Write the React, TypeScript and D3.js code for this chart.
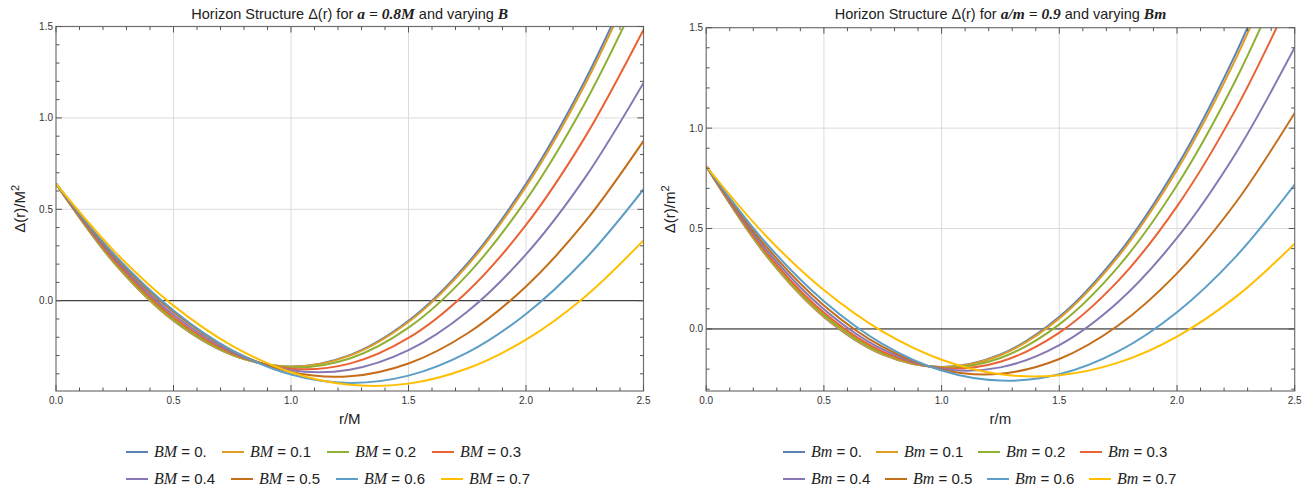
import React from "react";
import * as d3 from "d3";

// ---------- data ----------
const rGrid = [0, 0.25, 0.5, 0.75, 1.0, 1.25, 1.5, 1.75, 2.0, 2.25, 2.5];
const bLabels = ["0.", "0.1", "0.2", "0.3", "0.4", "0.5", "0.6", "0.7"];
const seriesColors = ["#5E81B5", "#E19C24", "#8FB032", "#EB6235", "#8778B3", "#C56E1A", "#5D9EC7", "#FFBF00"];

// Left panel: a = 0.8M
const leftB0 = [0.64, 0.2025, -0.11, -0.2975, -0.36, -0.2975, -0.11, 0.2025, 0.64, 1.2025, 1.89];
const leftB1 = [0.64, 0.2036, -0.1086, -0.2968, -0.3609, -0.3008, -0.1167, 0.1915, 0.6239, 1.1803, 1.8608];
const leftB2 = [0.64, 0.2088, -0.1024, -0.2936, -0.3648, -0.316, -0.1472, 0.1416, 0.5504, 1.0792, 1.728];
const leftB3 = [0.64, 0.2184, -0.0909, -0.2877, -0.3721, -0.3441, -0.2037, 0.0492, 0.4144, 0.8921, 1.4822];
const leftB4 = [0.64, 0.2297, -0.0772, -0.2807, -0.3807, -0.3773, -0.2704, -0.0601, 0.2536, 0.6708, 1.1914];
const leftB5 = [0.64, 0.242, -0.0623, -0.273, -0.3901, -0.4135, -0.3432, -0.1793, 0.0782, 0.4294, 0.8743];
const leftB6 = [0.64, 0.2502, -0.0537, -0.2717, -0.4038, -0.4498, -0.41, -0.2842, -0.0725, 0.2252, 0.6087];
const leftB7 = [0.64, 0.2687, -0.027, -0.2471, -0.3916, -0.4604, -0.4537, -0.3712, -0.2132, 0.0205, 0.3297];

// Right panel: a/m = 0.9
const rightB0 = [0.81, 0.3725, 0.06, -0.1275, -0.19, -0.1275, 0.06, 0.3725, 0.81, 1.3725, 2.06];
const rightB1 = [0.81, 0.3741, 0.062, -0.1261, -0.1905, -0.1309, 0.0526, 0.3599, 0.7911, 1.3462, 2.0251];
const rightB2 = [0.81, 0.3804, 0.0701, -0.1207, -0.1923, -0.1444, 0.0229, 0.3095, 0.7155, 1.2409, 1.8856];
const rightB3 = [0.81, 0.3891, 0.0814, -0.1132, -0.1948, -0.1631, -0.0184, 0.2395, 0.6105, 1.0946, 1.6919];
const rightB4 = [0.81, 0.4023, 0.0983, -0.102, -0.1985, -0.1913, -0.0803, 0.1345, 0.453, 0.8752, 1.4012];
const rightB5 = [0.81, 0.417, 0.1172, -0.0894, -0.2027, -0.2228, -0.1496, 0.0169, 0.2766, 0.6295, 1.0757];
const rightB6 = [0.81, 0.4331, 0.1379, -0.0756, -0.2073, -0.2573, -0.2255, -0.1119, 0.0834, 0.3604, 0.7192];
const rightB7 = [0.81, 0.4681, 0.1936, -0.0135, -0.1531, -0.2254, -0.2302, -0.1677, -0.0377, 0.1597, 0.4245];

const xMajorTicks = [0, 0.5, 1.0, 1.5, 2.0, 2.5];
const yMajorTicks = [0, 0.5, 1.0, 1.5];

const leftSeries = [leftB0, leftB1, leftB2, leftB3, leftB4, leftB5, leftB6, leftB7];
const rightSeries = [rightB0, rightB1, rightB2, rightB3, rightB4, rightB5, rightB6, rightB7];

// ---------- layout ----------
const W = 1314;
const H = 491;
const SANS = "'Liberation Sans', Arial, Helvetica, sans-serif";
const SERIF = "'Liberation Serif', 'Times New Roman', serif";

type PanelProps = {
  id: string;
  x0: number;
  x1: number;
  yTop: number;
  yBottom: number;
  yMin: number;
  series: number[][];
  titleMath: string;
  titleVar: string;
  yLabelVar: string;
  xLabel: string;
  legendVar: string;
  legendStart: number;
  legendItemW: number;
};

function fmt(v: number) {
  return v.toFixed(1);
}

function Panel(p: PanelProps) {
  const x = d3.scaleLinear().domain([0, 2.5]).range([p.x0, p.x1]);
  const y = d3.scaleLinear().domain([p.yMin, 1.5]).range([p.yBottom, p.yTop]);
  const line = d3
    .line<number>()
    .x((_, i) => x(rGrid[i]))
    .y((d) => y(d))
    .curve(d3.curveCatmullRom.alpha(0.5));

  const xMinor = d3.range(0, 26).map((i) => i / 10).filter((v) => v <= 2.5001);
  const yMinorStart = Math.ceil(p.yMin * 10 - 1e-9);
  const yMinor = d3.range(yMinorStart, 16).map((i) => i / 10);
  const isMajor = (v: number) => Math.abs(v * 2 - Math.round(v * 2)) < 1e-6;

  const frameColor = "#707070";
  const tickColor = "#555";
  const gridColor = "#dcdcdc";
  const majorLen = 6;
  const minorLen = 3.5;

  const cx = (p.x0 + p.x1) / 2;
  const cy = (p.yTop + p.yBottom) / 2;

  return (
    <g>
      <defs>
        <clipPath id={`clip-${p.id}`}>
          <rect x={p.x0} y={p.yTop} width={p.x1 - p.x0} height={p.yBottom - p.yTop} />
        </clipPath>
      </defs>
      {/* grid */}
      {xMajorTicks
        .filter((v) => v > 0 && v < 2.5)
        .map((v) => (
          <line key={`gx${v}`} x1={x(v)} x2={x(v)} y1={p.yTop} y2={p.yBottom} stroke={gridColor} strokeWidth={1} />
        ))}
      {yMajorTicks
        .filter((v) => v > 0 && v < 1.5)
        .map((v) => (
          <line key={`gy${v}`} x1={p.x0} x2={p.x1} y1={y(v)} y2={y(v)} stroke={gridColor} strokeWidth={1} />
        ))}
      {/* zero axis */}
      <line x1={p.x0} x2={p.x1} y1={y(0)} y2={y(0)} stroke="#111" strokeWidth={1} />
      {/* curves */}
      <g clipPath={`url(#clip-${p.id})`}>
        {p.series.map((s, i) => (
          <path key={i} d={line(s) || ""} fill="none" stroke={seriesColors[i]} strokeWidth={2} />
        ))}
      </g>
      {/* frame */}
      <rect x={p.x0} y={p.yTop} width={p.x1 - p.x0} height={p.yBottom - p.yTop} fill="none" stroke={frameColor} strokeWidth={1.2} />
      {/* x ticks */}
      {xMinor.map((v) => {
        const L = isMajor(v) ? majorLen : minorLen;
        return (
          <g key={`xt${v}`}>
            <line x1={x(v)} x2={x(v)} y1={p.yBottom} y2={p.yBottom - L} stroke={tickColor} strokeWidth={1} />
            <line x1={x(v)} x2={x(v)} y1={p.yTop} y2={p.yTop + L} stroke={tickColor} strokeWidth={1} />
          </g>
        );
      })}
      {/* y ticks */}
      {yMinor.map((v) => {
        const L = isMajor(v) ? majorLen : minorLen;
        return (
          <g key={`yt${v}`}>
            <line x1={p.x0} x2={p.x0 + L} y1={y(v)} y2={y(v)} stroke={tickColor} strokeWidth={1} />
            <line x1={p.x1} x2={p.x1 - L} y1={y(v)} y2={y(v)} stroke={tickColor} strokeWidth={1} />
          </g>
        );
      })}
      {/* tick labels */}
      {xMajorTicks.map((v) => (
        <text key={`xl${v}`} x={x(v)} y={p.yBottom + 13} textAnchor="middle" fontFamily={SANS} fontSize={10} fill="#333">
          {fmt(v)}
        </text>
      ))}
      {yMajorTicks.map((v) => (
        <text key={`yl${v}`} x={p.x0 - 3} y={y(v) + 3.5} textAnchor="end" fontFamily={SANS} fontSize={10} fill="#333">
          {fmt(v)}
        </text>
      ))}
      {/* title */}
      <text x={cx} y={19} textAnchor="middle" fontFamily={SANS} fontSize={14.5} fill="#222">
        Horizon Structure Δ(r) for{" "}
        <tspan fontFamily={SERIF} fontStyle="italic" fontWeight="bold" fontSize={15.5}>
          {p.titleMath}
        </tspan>{" "}
        and varying{" "}
        <tspan fontFamily={SERIF} fontStyle="italic" fontWeight="bold" fontSize={15.5}>
          {p.titleVar}
        </tspan>
      </text>
      {/* axis labels */}
      <text x={cx} y={p.yBottom + 33} textAnchor="middle" fontFamily={SANS} fontSize={15} fill="#222">
        {p.xLabel}
      </text>
      <text
        transform={`translate(${p.x0 - 31},${cy}) rotate(-90)`}
        textAnchor="middle"
        fontFamily={SANS}
        fontSize={15}
        fill="#222"
      >
        Δ(r)/{p.yLabelVar}
        <tspan dy={-6} fontSize={11}>
          2
        </tspan>
      </text>
      {/* legend */}
      {bLabels.map((lab, i) => {
        const row = Math.floor(i / 4);
        const col = i % 4;
        let lx = p.legendStart;
        for (let k = row * 4; k < row * 4 + col; k++) {
          lx += p.legendItemW - (bLabels[k] === "0." ? 9 : 0);
        }
        const ly = 452 + row * 27;
        return (
          <g key={`lg${i}`}>
            <line x1={lx} x2={lx + 22} y1={ly} y2={ly} stroke={seriesColors[i]} strokeWidth={2} />
            <text x={lx + 28} y={ly + 5} fontFamily={SANS} fontSize={15} fill="#222">
              <tspan fontFamily={SERIF} fontStyle="italic" fontSize={16}>
                {p.legendVar}
              </tspan>
              {` = ${lab}`}
            </text>
          </g>
        );
      })}
    </g>
  );
}

export default function App() {
  return (
    <svg
      width={W}
      height={H}
      viewBox={`0 0 ${W} ${H}`}
      style={{ position: "absolute", left: 0, top: 0, background: "#fff" }}
    >
      <rect x={0} y={0} width={W} height={H} fill="#fff" />
      <Panel
        id="left"
        x0={56}
        x1={643.5}
        yTop={26.5}
        yBottom={391}
        yMin={-0.494}
        series={leftSeries}
        titleMath="a = 0.8M"
        titleVar="B"
        yLabelVar="M"
        xLabel="r/M"
        legendVar="BM"
        legendStart={126}
        legendItemW={105}
      />
      <Panel
        id="right"
        x0={706.2}
        x1={1294.7}
        yTop={27.7}
        yBottom={391}
        yMin={-0.309}
        series={rightSeries}
        titleMath="a/m = 0.9"
        titleVar="Bm"
        yLabelVar="m"
        xLabel="r/m"
        legendVar="Bm"
        legendStart={783}
        legendItemW={102}
      />
    </svg>
  );
}
